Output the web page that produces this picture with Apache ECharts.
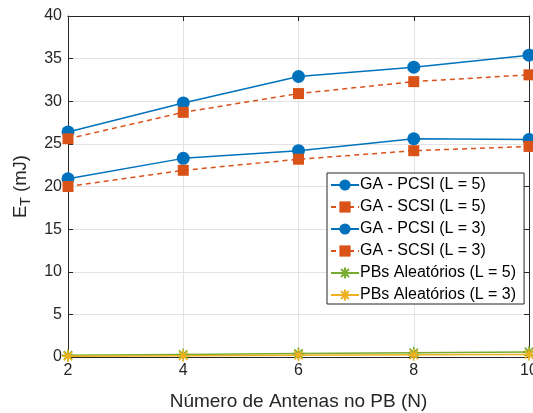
<!DOCTYPE html>
<html><head><meta charset="utf-8">
<script src="https://cdn.jsdelivr.net/npm/echarts@6/dist/echarts.min.js"></script>
<style>html,body{margin:0;padding:0;background:#fff}#c{width:533px;height:413px}</style>
</head><body><div id="c"></div>
<script>
const xValues = [2, 4, 6, 8, 10];
const pcsiL5 = [26.4, 29.8, 32.9, 34.0, 35.4];
const scsiL5 = [25.6, 28.7, 30.9, 32.3, 33.1];
const pcsiL3 = [20.9, 23.3, 24.2, 25.6, 25.5];
const scsiL3 = [20.0, 21.9, 23.2, 24.2, 24.7];
const randL5 = [0.2, 0.3, 0.4, 0.5, 0.6];
const randL3 = [0.1, 0.15, 0.2, 0.25, 0.3];
const seriesNames = ['GA - PCSI (L = 5)', 'GA - SCSI (L = 5)', 'GA - PCSI (L = 3)', 'GA - SCSI (L = 3)', 'PBs Aleatórios (L = 5)', 'PBs Aleatórios (L = 3)'];

const FONT = 'Liberation Sans, Arial, Helvetica, sans-serif';
const TXT = '#262626';
const star = 'path://M0,-6L0,6M-6,0L6,0M-4.2,-4.2L4.2,4.2M-4.2,4.2L4.2,-4.2';
function pts(arr){ return xValues.map((x,i)=>[x, arr[i]]); }
function mk(name, data, color, dashed, symbol, size, isStar){
  return {
    name, type:'line', data: pts(data), symbol, symbolSize:size,
    xAxisIndex:0, yAxisIndex:0,
    lineStyle:{color, width:1.5, type: dashed ? [5,4] : 'solid'},
    itemStyle: isStar ? {color:'rgba(0,0,0,0)', borderColor:color, borderWidth:1.6} : {color, borderWidth:0},
    emphasis:{disabled:true}, animation:false, z:3
  };
}
const chart = echarts.init(document.getElementById('c'));
chart.setOption({
  animation:false,
  textStyle:{fontFamily:FONT},
  grid:{left:68, right:4, top:16, bottom:56, outerBoundsMode:'none', containLabel:false},
  xAxis:[{
    type:'value', min:2, max:10, interval:2,
    name:'Número de Antenas no PB (N)', nameLocation:'middle', nameGap:35,
    nameTextStyle:{fontSize:19, color:TXT, fontFamily:FONT},
    axisLine:{onZero:false, lineStyle:{color:TXT, width:1}},
    axisTick:{inside:true, length:5, lineStyle:{color:TXT}},
    axisLabel:{fontSize:16, color:TXT, margin:6, fontFamily:FONT},
    splitLine:{show:true, lineStyle:{color:'#e3e3e3', width:1}}
  },{
    type:'value', min:2, max:10, interval:2, position:'top',
    axisLine:{onZero:false, lineStyle:{color:TXT}},
    axisTick:{inside:true, length:5, lineStyle:{color:TXT}},
    axisLabel:{show:false}, splitLine:{show:false}
  }],
  yAxis:[{
    type:'value', min:0, max:40, interval:5,
    name:'{a|E}{s|T}{a| (mJ)}', nameLocation:'middle', nameGap:32, nameRotate:90,
    nameTextStyle:{color:TXT, rich:{a:{fontSize:18.5, color:TXT, fontFamily:FONT}, s:{fontSize:14, color:TXT, fontFamily:FONT, padding:[10,0,0,0]}}},
    axisLine:{onZero:false, lineStyle:{color:TXT, width:1}},
    axisTick:{inside:true, length:5, lineStyle:{color:TXT}},
    axisLabel:{fontSize:16, color:TXT, margin:6, fontFamily:FONT},
    splitLine:{show:true, lineStyle:{color:'#e3e3e3', width:1}}
  },{
    type:'value', min:0, max:40, interval:5, position:'right',
    axisLine:{onZero:false, lineStyle:{color:TXT}},
    axisTick:{inside:true, length:5, lineStyle:{color:TXT}},
    axisLabel:{show:false}, splitLine:{show:false}
  }],
  legend:{
    orient:'vertical', left:327, top:173, width:200,
    backgroundColor:'#fff', borderColor:TXT, borderWidth:1,
    padding:[4,8,1,3], itemGap:6, itemWidth:28, itemHeight:14,
    textStyle:{fontSize:16, color:'#000', fontFamily:FONT, padding:[0,0,0,-4]},
    data: seriesNames
  },
  series:[
    mk(seriesNames[0], pcsiL5, '#0072BD', false, 'circle', 13),
    mk(seriesNames[1], scsiL5, '#D95319', true, 'rect', 11),
    mk(seriesNames[2], pcsiL3, '#0072BD', false, 'circle', 13),
    mk(seriesNames[3], scsiL3, '#D95319', true, 'rect', 11),
    mk(seriesNames[4], randL5, '#77AC30', false, star, 12, true),
    mk(seriesNames[5], randL3, '#EDB120', false, star, 12, true)
  ]
});
</script></body></html>
